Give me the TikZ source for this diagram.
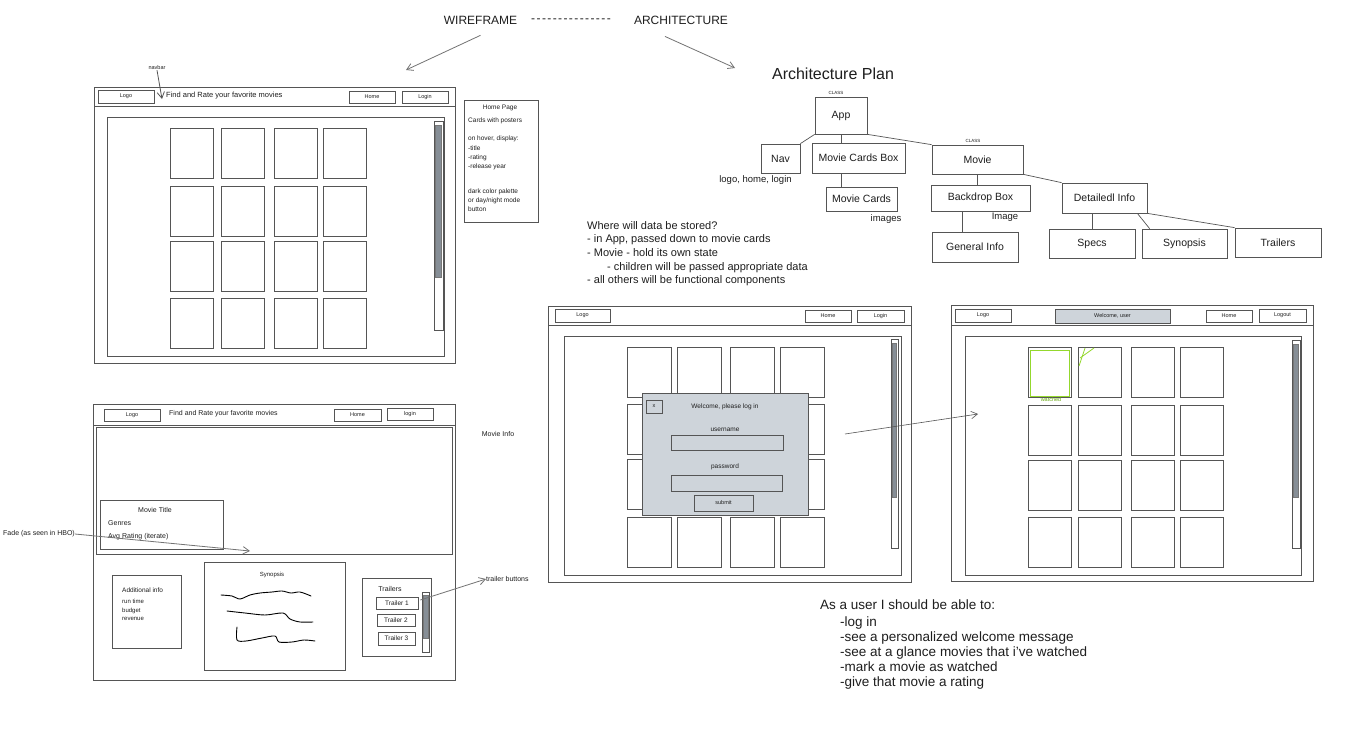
\documentclass[tikz,border=0pt]{standalone}
\usepackage{fontspec}
\setmainfont{Liberation Sans}
\usepackage{xcolor}
\usepackage{tikz}
\usetikzlibrary{positioning,arrows.meta,calc}
\definecolor{inkclr}{RGB}{30,30,30}
\definecolor{lineclr}{RGB}{85,85,85}
\definecolor{arrowclr}{RGB}{115,115,115}
\definecolor{thumbclr}{RGB}{134,142,150}
\definecolor{modalclr}{RGB}{206,212,218}
\definecolor{watchclr}{RGB}{102,168,15}
\definecolor{watchlt}{RGB}{148,216,45}
\newcommand\txtsize[2]{\fontsize{#1}{#2}\selectfont}
\newcommand\dashgap{\kern1.4pt}
\tikzset{
  frame/.style={draw=lineclr,line width=0.9pt},
  card/.style={draw=lineclr,line width=0.8pt},
  btn/.style={rectangle,draw=lineclr,line width=0.7pt,inner sep=0pt,
              text=inkclr,font=\txtsize{5.5}{6.5}},
  cls/.style={rectangle,draw=lineclr,line width=0.7pt,fill=white,
              inner sep=0pt,text=inkclr,font=\txtsize{10.5}{12}},
  lbl/.style={inner sep=0pt,text=inkclr},
  note/.style={lbl,anchor=west},
  block/.style={lbl,anchor=north west,align=left},
  link/.style={draw=lineclr,line width=0.7pt},
  pointer/.style={draw=arrowclr,line width=0.8pt,
                  -{Straight Barb[length=2.2mm,width=2.6mm]}},
  track/.style={draw=lineclr,line width=0.6pt,fill=white},
  thumb/.style={draw=lineclr!80,line width=0.4pt,fill=thumbclr},
  squiggle/.style={draw=black,line width=0.9pt,line cap=round},
}

\begin{document}
\begin{tikzpicture}[x=1pt,y=-1pt]
\useasboundingbox[fill=white] (0,0) rectangle (1352,737);

% ── heading
\node[lbl,font=\txtsize{12}{14}] (wfTitle) at (480.5,20) {WIREFRAME};
\node[lbl,font=\txtsize{12}{14}] (dashes) at (571,21)
  {-\dashgap-\dashgap-\dashgap-\dashgap-\dashgap-\dashgap-\dashgap-\dashgap-\dashgap-\dashgap-\dashgap-\dashgap-\dashgap-\dashgap-};
\node[lbl,font=\txtsize{12}{14}] (archTitle) at (681,20) {ARCHITECTURE};
\coordinate (wfTip) at (406,70);
\coordinate (archTip) at (735,68);
\draw[pointer] ([yshift=-11pt]wfTitle.south) -- (wfTip);
\draw[pointer] ([xshift=-16pt,yshift=-12pt]archTitle.south) -- (archTip);

% ── home page wireframe
\draw[frame] (94,87) rectangle (455,363);
\draw[frame] (94,106) -- (455,106);
\draw[frame] (107,117) rectangle (444,356);
\node[btn,minimum width=56,minimum height=13] (homeLogo) at (126,96.5) {Logo};
\node[note,font=\txtsize{7.5}{9}] (homeTag) at (166,96) {Find and Rate your favorite movies};
\node[btn,minimum width=46,minimum height=12] (homeHome) at (372,97) {Home};
\node[btn,minimum width=46,minimum height=12] (homeLogin) at (425,97) {Login};
\foreach \cx in {170,221,274,323}
  \foreach \cy in {128,186,241,298}
    \draw[card] (\cx,\cy) rectangle ++(43,50);
\draw[track] (434,121) rectangle (443,330);
\draw[thumb] (435.5,125) rectangle (441.5,277);
\node[lbl,font=\txtsize{5.5}{6.5}] (navLbl) at (157,68) {navbar};
\coordinate (navTip) at (162,99);
\draw[pointer,draw=lineclr] (navLbl.south) -- (navTip);

% ── home page notes
\draw[frame,line width=0.7pt] (464,100) rectangle (538,222);
\node[lbl,font=\txtsize{6.5}{8}] (noteHead) at (500,108) {Home Page};
\node[note,font=\txtsize{6.5}{8}] (noteCards) at (468,121) {Cards with posters};
\node[block,font=\txtsize{6.5}{9.3}] (noteHover) at (468,136)
  {on hover, display:\\-title\\-rating\\-release year};
\node[block,font=\txtsize{6.5}{8.6}] (noteDark) at (468,189)
  {dark color palette\\or day/night mode\\button};

% ── architecture plan
\node[lbl,font=\txtsize{16}{18}] (planTitle) at (833,74) {Architecture Plan};
\node[cls,minimum width=52,minimum height=37] (app) at (841,115.5) {App};
\node[cls,minimum width=39,minimum height=29] (nav) at (780.5,158.5) {Nav};
\node[cls,minimum width=93,minimum height=30] (cardsBox) at (858.5,158) {Movie Cards Box};
\node[cls,minimum width=91,minimum height=29] (movie) at (977.5,159.5) {Movie};
\node[cls,minimum width=71,minimum height=24] (cards) at (861.5,199) {Movie Cards};
\node[cls,minimum width=99,minimum height=26] (backdrop) at (980.5,198) {Backdrop Box};
\node[cls,minimum width=86,minimum height=30] (general) at (975,247) {General Info};
\node[cls,minimum width=85,minimum height=30] (detail) at (1104.5,198) {Detailedl Info};
\node[cls,minimum width=86,minimum height=29] (specs) at (1092,243.5) {Specs};
\node[cls,minimum width=85,minimum height=29] (synopsis) at (1184.5,243.5) {Synopsis};
\node[cls,minimum width=86,minimum height=29] (trailers) at (1278,242.5) {Trailers};
\node[lbl,font=\txtsize{4.5}{5}] (appCls) at (836,93) {CLASS};
\node[lbl,font=\txtsize{4.5}{5}] (movieCls) at (973,141) {CLASS};
\node[lbl,font=\txtsize{9.5}{11}] (navNote) at (755.5,180) {logo, home, login};
\node[lbl,font=\txtsize{9.5}{11}] (cardsNote) at (886,219) {images};
\node[lbl,font=\txtsize{9.5}{11}] (backNote) at (1005,217) {Image};
\draw[link] (app.south west) -- (nav.north east);
\draw[link] (app.south) -- (app.south |- cardsBox.north);
\draw[link] (app.south east) -- (movie.north west);
\draw[link] (app.south |- cardsBox.south) -- (app.south |- cards.north);
\draw[link] (movie.south) -- (movie.south |- backdrop.north);
\draw[link] (movie.south east) -- (detail.north west);
\draw[link] ([xshift=-18pt]backdrop.south) -- ([xshift=-18pt]backdrop.south |- general.north);
\draw[link] (detail.south -| specs.north) -- (specs.north);
\draw[link] ([xshift=-10pt]detail.south east) -- ([xshift=8pt]synopsis.north west);
\draw[link] (detail.south east) -- (trailers.north west);

% ── where data lives
\node[block,font=\txtsize{11}{13.7}] (dataNote) at (587,221)
  {Where will data be stored?\\
   - in App, passed down to movie cards\\
   - Movie - hold its own state\\
   \hspace*{20pt}- children will be passed appropriate data\\
   - all others will be functional components};

% ── movie page wireframe
\draw[frame] (93,404) rectangle (455,680);
\draw[frame] (93,425) -- (455,425);
\draw[frame] (96,427) rectangle (452,554);
\node[btn,minimum width=56,minimum height=12] (pageLogo) at (132,415) {Logo};
\node[note,font=\txtsize{7}{8.5}] (pageTag) at (169,414) {Find and Rate your favorite movies};
\node[btn,minimum width=47,minimum height=12] (pageHome) at (357.5,415) {Home};
\node[btn,minimum width=46,minimum height=12] (pageLogin) at (410,414) {login};
\draw[frame,line width=0.7pt] (100,500) rectangle (223,549);
\node[lbl,font=\txtsize{7}{8.5}] (movieTitle) at (155,510) {Movie Title};
\node[note,font=\txtsize{7}{8.5}] (genres) at (108,523) {Genres};
\node[note,font=\txtsize{7}{8.5}] (avgRating) at (108,537) {Avg Rating (iterate)};
\node[lbl,font=\txtsize{7}{8.5}] (fadeLbl) at (39,534) {Fade (as seen in HBO)};
\coordinate (fadeTip) at (250,551);
\draw[pointer] (fadeLbl.east) -- (fadeTip);
\node[lbl,font=\txtsize{7}{8.5}] (movieInfo) at (498,434) {Movie Info};
% additional info
\draw[frame,line width=0.7pt] (112,575) rectangle (181,648);
\node[note,font=\txtsize{6.5}{8}] (addInfo) at (122,590) {Additional info};
\node[block,font=\txtsize{6}{8.5}] (addList) at (122,599) {run time\\budget\\revenue};
% synopsis
\draw[frame,line width=0.7pt] (204,562) rectangle (345,670);
\node[lbl,font=\txtsize{6}{7}] (synHead) at (272,575) {Synopsis};
\draw[squiggle] plot[smooth] coordinates {(221,595) (232,596) (240,599) (250,595) (260,593) (272,592) (282,591) (291,593) (300,592) (311,596)};
\draw[squiggle] plot[smooth] coordinates {(227,611) (245,613) (265,615) (283,613) (290,619) (300,622) (313,622)};
\draw[squiggle] plot[smooth] coordinates {(237,627) (237,640) (246,641) (262,638) (275,636) (279,642) (292,642) (304,640) (315,641)};
% trailers
\draw[frame,line width=0.7pt] (362,578) rectangle (431,656);
\node[lbl,font=\txtsize{7}{8.5}] (trailHead) at (390,589) {Trailers};
\node[btn,minimum width=42,minimum height=12,font=\txtsize{6.5}{7.5}] (trailer1) at (397,603) {Trailer 1};
\node[btn,minimum width=38,minimum height=12,font=\txtsize{6.5}{7.5}] (trailer2) at (396,620) {Trailer 2};
\node[btn,minimum width=37,minimum height=13,font=\txtsize{6.5}{7.5}] (trailer3) at (396.5,638.5) {Trailer 3};
\draw[track] (422,592) rectangle (429,652);
\draw[thumb] (423.3,595) rectangle (427.7,638);
\node[note,font=\txtsize{7}{8.5}] (trailLbl) at (486,579) {trailer buttons};
\draw[pointer] ([xshift=2pt,yshift=3pt]trailer1.east) -- (trailLbl.west);

% ── login wireframe
\draw[frame] (548,306) rectangle (911,582);
\draw[frame] (548,325) -- (911,325);
\draw[frame] (564,336) rectangle (901,575);
\node[btn,minimum width=55,minimum height=13] (loginLogo) at (582.5,315.5) {Logo};
\node[btn,minimum width=46,minimum height=12] (loginHome) at (828,316) {Home};
\node[btn,minimum width=47,minimum height=12] (loginLogin) at (880.5,316) {Login};
\foreach \cx in {627,677,730,780}
  \foreach \cy in {347,404,459,517}
    \draw[card] (\cx,\cy) rectangle ++(44,50);
\draw[track] (891,339) rectangle (898,548);
\draw[thumb] (892.5,343) rectangle (896.5,497);
\draw[frame,fill=modalclr] (642,393) rectangle (808,515);
\node[btn,minimum width=16,minimum height=13] (closeBtn) at (654,406.5) {x};
\node[lbl,font=\txtsize{6.5}{8}] (welcomeMsg) at (725,407) {Welcome, please log in};
\node[lbl,font=\txtsize{6.5}{8}] (userLbl) at (725,430) {username};
\node[btn,minimum width=112,minimum height=15] (userField) at (727,442.5) {};
\node[lbl,font=\txtsize{6.5}{8}] (passLbl) at (725,467) {password};
\node[btn,minimum width=111,minimum height=16] (passField) at (726.5,483) {};
\node[btn,minimum width=59,minimum height=16] (submitBtn) at (723.5,503) {submit};
\coordinate (loginPt) at (845,434);

% ── logged-in wireframe
\draw[frame] (951,305) rectangle (1313,581);
\draw[frame] (951,325) -- (1313,325);
\draw[frame] (965,336) rectangle (1301,575);
\node[btn,minimum width=56,minimum height=13] (userLogo) at (983,315.5) {Logo};
\node[btn,minimum width=115,minimum height=14,fill=modalclr] (welcomeUser) at (1112.5,316) {Welcome, user};
\node[btn,minimum width=46,minimum height=12] (userHome) at (1229,316) {Home};
\node[btn,minimum width=47,minimum height=13] (userLogout) at (1282.5,315.5) {Logout};
\foreach \cx in {1028,1078,1131,1180}
  \foreach \cy in {347,405,460,517}
    \draw[card] (\cx,\cy) rectangle ++(43,50);
\draw[watchlt,line width=0.8pt] (1030,350) rectangle (1069,396);
\node[lbl,text=watchclr,font=\txtsize{5.5}{6.5}] (watchedLbl) at (1051,399.5) {watched};
\draw[watchlt,line width=0.8pt] (1079,366) -- (1085,348);
\draw[watchlt,line width=0.8pt] (1080,358) -- (1094,348);
\draw[track] (1292,340) rectangle (1300,548);
\draw[thumb] (1293.5,344) rectangle (1298.5,497);
\coordinate (userPt) at (978,414);
\draw[pointer,draw=lineclr,line width=0.6pt] (loginPt) -- (userPt);

% ── user stories
\node[block,font=\txtsize{13.5}{15}] (stories) at (820,600)
  {As a user I should be able to:\\[1.5pt]
   \hspace*{20pt}-log in\\
   \hspace*{20pt}-see a personalized welcome message\\
   \hspace*{20pt}-see at a glance movies that i've watched\\
   \hspace*{20pt}-mark a movie as watched\\
   \hspace*{20pt}-give that movie a rating};

\end{tikzpicture}
\end{document}
